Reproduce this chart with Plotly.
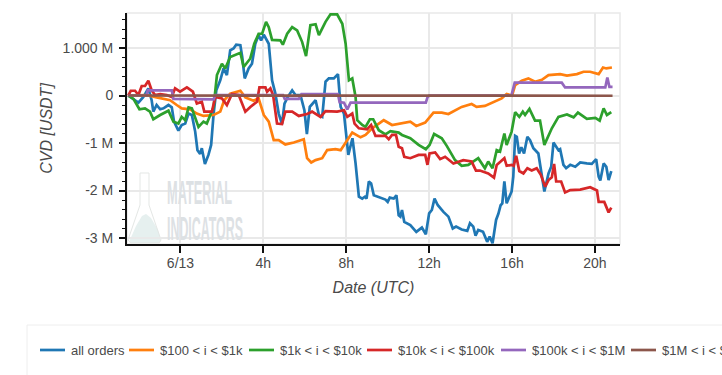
import plotly.graph_objects as go

W, H = 722, 375
L, R, T, B = 127, 620, 13, 244

series_names = ["all orders", "$100 < i < $1k", "$1k < i < $10k", "$10k < i < $100k", "$100k < i < $1M", "$1M < i < $10M"]
series_colors = ["#1f77b4", "#ff7f0e", "#2ca02c", "#d62728", "#9467bd", "#8c564b"]

# hours relative to 6/13 00:00 UTC, values in millions of USDT
blue_t = [-2.52,-2.27,-2.03,-1.79,-1.55,-1.39,-1.31,-1.15,-0.98,-0.82,-0.58,-0.42,-0.31,-0.10,0.06,0.23,0.39,0.55,0.71,0.82,0.95,1.03,1.18,1.35,1.48,1.60,1.73,1.92,2.08,2.24,2.40,2.56,2.69,2.89,2.98,3.10,3.29,3.45,3.61,3.77,3.89,4.02,4.15,4.26,4.42,4.58,4.74,4.90,5.02,5.18,5.39,5.55,5.79,5.98,6.10,6.24,6.52,6.68,6.84,7.0,7.16,7.40,7.60,7.73,7.89,8.10,8.30,8.45,8.61,8.77,8.9,8.98,9.09,9.2,9.33,9.65,9.89,10.0,10.1,10.29,10.42,10.53,10.61,10.69,10.8,11.09,11.38,11.65,11.84,12.0,12.13,12.26,12.42,12.69,12.93,13.14,13.3,13.57,13.84,13.97,14.13,14.24,14.37,14.6,14.8,14.92,15.06,15.23,15.34,15.45,15.53,15.63,15.74,15.98,16.06,16.15,16.23,16.34,16.45,16.58,16.74,16.87,17.03,17.27,17.4,17.56,17.76,17.89,18.0,18.11,18.24,18.32,18.48,18.61,18.81,19.05,19.29,19.61,19.85,20.06,20.18,20.26,20.42,20.55,20.66,20.79]
blue_v = [0,-0.08,-0.15,-0.03,0.15,-0.10,-0.34,-0.20,-0.29,-0.27,-0.20,-0.25,-0.55,-0.74,-0.62,-0.59,-0.38,-0.41,-0.76,-1.15,-1.23,-1.11,-1.44,-1.25,-1.04,-0.38,0.11,0.32,0.57,0.43,0.95,0.99,1.07,1.06,0.81,0.36,0.57,0.67,1.09,1.27,1.16,1.28,1.16,1.09,0.32,0.04,-0.38,-0.60,-0.17,-0.03,0.11,0.01,0.01,-0.31,-0.81,-0.24,-0.10,-0.41,-0.45,0.29,0.36,0.36,0.45,-0.24,-0.38,-1.25,-0.90,-1.43,-2.13,-2.17,-2.13,-2.17,-1.81,-1.85,-2.1,-2.15,-2.19,-2.24,-2.15,-2.17,-2.1,-2.52,-2.55,-2.41,-2.66,-2.73,-2.87,-2.78,-2.92,-2.48,-2.41,-2.17,-2.31,-2.45,-2.55,-2.8,-2.76,-2.82,-2.85,-2.69,-2.76,-2.95,-2.83,-2.87,-3.08,-2.97,-3.11,-2.62,-2.49,-2.31,-2.27,-1.81,-2.27,-2.02,-1.71,-0.85,-0.87,-1.22,-1.09,-1.22,-0.87,-0.94,-1.11,-1.22,-1.57,-2.02,-1.64,-1.5,-0.99,-1.06,-1.15,-1.13,-1.46,-1.53,-1.46,-1.5,-1.41,-1.43,-1.44,-1.34,-1.71,-1.79,-1.43,-1.5,-1.78,-1.59]

orange_t = [-2.52,-1.63,-1.15,-0.5,-0.18,0.06,0.47,0.79,1.11,1.6,1.92,2.11,2.4,2.89,3.13,3.53,3.77,4.02,4.26,4.5,4.74,5.06,5.47,5.95,6.11,6.31,6.52,6.84,7.08,7.48,7.73,8.0,8.29,8.69,8.93,9.25,9.81,10.21,10.69,11.09,11.38,11.81,12.21,12.61,12.93,13.57,14.05,14.29,14.69,15.1,15.5,15.74,16.0,16.15,16.47,16.79,17.11,17.44,17.76,18.32,18.65,19.13,19.45,19.77,20.18,20.39,20.55,20.82]
orange_v = [0,0.01,-0.04,-0.10,-0.2,-0.27,-0.29,-0.38,-0.43,-0.41,-0.34,-0.1,0.04,0.1,-0.04,-0.11,-0.06,-0.41,-0.55,-0.94,-0.94,-1.03,-0.99,-0.92,-1.32,-1.41,-1.36,-1.32,-1.15,-1.13,-1.15,-0.97,-0.78,-0.88,-0.83,-0.69,-0.52,-0.62,-0.59,-0.55,-0.64,-0.57,-0.36,-0.36,-0.39,-0.24,-0.18,-0.24,-0.22,-0.13,-0.06,0.03,0,0.22,0.31,0.36,0.29,0.33,0.43,0.45,0.42,0.45,0.5,0.5,0.45,0.59,0.57,0.59]

green_t = [-2.52,-2.27,-1.98,-1.71,-1.47,-1.31,-0.98,-0.58,-0.34,-0.1,0.06,0.23,0.39,0.55,0.87,1.11,1.27,1.6,1.76,2.0,2.16,2.4,2.89,3.05,3.37,3.56,3.77,3.94,4.13,4.26,4.42,4.82,4.94,5.15,5.39,5.63,5.87,6.06,6.27,6.52,6.68,7.0,7.24,7.56,7.81,7.97,8.13,8.29,8.45,8.53,8.77,8.93,9.14,9.3,9.57,9.89,10.13,10.37,10.53,10.69,11.09,11.49,11.84,12.02,12.24,12.61,12.85,13.25,13.57,13.89,14.13,14.37,14.69,14.85,15.06,15.26,15.42,15.63,15.74,15.98,16.15,16.35,16.52,16.63,16.84,17.11,17.35,17.56,17.92,18.24,18.65,18.97,19.18,19.61,20.02,20.23,20.42,20.58,20.79]
green_v = [0,-0.07,-0.29,-0.27,-0.34,-0.5,-0.41,-0.32,-0.55,-0.59,-0.45,-0.52,-0.25,-0.27,-0.66,-0.55,-0.59,-0.24,0.43,0.67,0.57,0.81,0.9,0.6,0.78,1.09,1.3,1.3,1.55,1.44,1.17,1.16,1.07,1.3,1.44,1.37,1.13,0.83,1.48,1.5,1.27,1.55,1.71,1.71,1.51,1.09,0.32,0.36,-0.03,-0.52,-0.62,-0.66,-0.5,-0.5,-0.73,-0.82,-0.75,-0.76,-0.78,-0.83,-0.9,-1.04,-1.13,-1.04,-0.81,-0.9,-1.06,-1.36,-1.48,-1.46,-1.39,-1.32,-1.53,-1.39,-1.53,-1.15,-1.18,-0.8,-1.04,-0.76,-0.35,-0.45,-0.34,-0.41,-0.28,-0.53,-0.53,-1.04,-0.69,-0.45,-0.4,-0.46,-0.36,-0.49,-0.47,-0.53,-0.27,-0.41,-0.35]

red_t = [-2.52,-2.4,-2.19,-2.03,-1.87,-1.71,-1.55,-1.39,-1.23,-0.98,-0.66,-0.42,-0.26,-0.02,0.31,0.6,0.79,1.03,1.15,1.52,1.68,2.0,2.24,2.48,2.81,3.13,3.37,3.69,3.81,4.1,4.18,4.34,4.47,4.66,4.9,5.06,5.39,5.71,6.11,6.35,6.76,7.0,7.56,7.89,8.05,8.29,8.4,8.61,9.01,9.2,9.41,9.89,10.05,10.21,10.4,10.53,10.69,10.8,11.09,11.49,11.81,11.92,12.02,12.29,12.53,12.77,13.17,13.65,14.05,14.26,14.45,14.85,15.13,15.26,15.45,15.63,15.74,15.98,16.08,16.2,16.35,16.55,16.74,16.95,17.19,17.39,17.6,17.76,17.92,18.03,18.13,18.37,18.56,18.81,19.29,19.77,20.1,20.18,20.45,20.66,20.79]
red_v = [0,0.1,0.1,0.01,0.2,0.2,0.31,0.11,0.01,0.03,0.01,-0.03,0.15,0.08,0.17,0.08,-0.17,-0.13,-0.34,-0.34,-0.03,-0.06,-0.2,0.03,0.01,-0.34,-0.24,-0.13,0.17,0.17,0.08,0.15,0.01,-0.59,-0.6,-0.34,-0.34,-0.43,-0.39,-0.34,-0.45,-0.33,-0.34,-0.31,-0.45,-0.38,-0.59,-0.69,-0.71,-0.62,-0.85,-0.85,-0.92,-0.83,-0.83,-1.08,-1.11,-1.29,-1.32,-1.25,-1.25,-1.46,-1.22,-1.2,-1.34,-1.29,-1.43,-1.36,-1.39,-1.58,-1.58,-1.64,-1.73,-1.46,-1.39,-1.32,-1.48,-1.46,-1.48,-1.27,-1.59,-1.64,-1.53,-1.58,-1.53,-1.67,-1.92,-1.78,-1.72,-1.44,-1.81,-1.81,-2.04,-1.99,-1.98,-1.93,-2.0,-2.24,-2.24,-2.46,-2.36]

purple_t = [-2.52,-1.63,-1.58,-0.42,-0.34,1.6,1.68,4.95,5.03,5.71,5.84,7.6,7.68,7.89,8.05,8.21,11.84,11.92,12.0,15.97,16.13,18.4,18.56,20.5,20.6,20.7,20.85]
purple_v = [0,0,0.11,0.11,-0.07,-0.08,0.01,0.01,-0.07,-0.07,0.03,0.03,-0.14,-0.15,-0.29,-0.15,-0.15,-0.04,0,0,0.27,0.27,0.17,0.17,0.38,0.18,0.18]

brown_t = [-2.52,4.0,12.0,20.85]
brown_v = [0,-0.005,-0.005,-0.005]

series_t = [blue_t, orange_t, green_t, red_t, purple_t, brown_t]
series_v = [blue_v, orange_v, green_v, red_v, purple_v, brown_v]

x_ticks = [0, 4, 8, 12, 16, 20]
x_labels = ["6/13", "4h", "8h", "12h", "16h", "20h"]
y_ticks = [-3, -2, -1, 0, 1]
y_labels = ["-3 M", "-2 M", "-1 M", "0", "1.000 M"]

X_RANGE = [-2.58, 21.21]
Y_RANGE = [-3.126, 1.737]

def px(x):
    return (x - L) / (R - L)

def py(y):
    return (B - y) / (B - T)

def path(points, close=True):
    s = "M" + " L".join(f"{px(a):.4f},{py(b):.4f}" for a, b in points)
    return s + (" Z" if close else "")

fig = go.Figure()
for name, color, t, v in zip(series_names, series_colors, series_t, series_v):
    fig.add_trace(go.Scatter(x=t, y=v, name=name, mode="lines", showlegend=False,
                             line=dict(color=color, width=2.7)))

FONT = "Liberation Sans, Arial, sans-serif"
GRID = "#e9e9e9"
TEXT = "#4a4a4a"
shapes = [
    dict(type="rect", xref="paper", yref="paper", x0=0, x1=1, y0=0, y1=1,
         line=dict(color=GRID, width=1.5), layer="below"),
    # watermark flask
    dict(type="path", xref="paper", yref="paper", layer="below",
         path=path([(129, 242), (136, 226), (142, 216), (146, 214), (151, 218), (158, 230), (161, 241), (158, 243), (131, 243)]),
         fillcolor="#e6f0ef", line=dict(width=0)),
    dict(type="path", xref="paper", yref="paper", layer="below",
         path=path([(140, 173), (149, 173), (149, 205), (161, 240), (159, 243), (131, 243), (128, 240), (140, 205)]),
         fillcolor="rgba(0,0,0,0)", line=dict(color="#e4e7e5", width=1)),
    # legend frame
    dict(type="rect", xref="paper", yref="paper", x0=px(27), x1=px(780), y0=py(325), y1=py(400),
         line=dict(color="#eeeeee", width=1), fillcolor="white"),
]
annotations = [
    dict(text="MATERIAL", x=px(165), y=py(191.5), xref="paper", yref="paper", xanchor="left", yanchor="middle",
         showarrow=False, font=dict(family="Liberation Sans Narrow, Liberation Sans", size=15, color="#dde1e4", weight="bold"),
         captureevents=False),
    dict(text="INDICATORS", x=px(165), y=py(227), xref="paper", yref="paper", xanchor="left", yanchor="middle",
         showarrow=False, font=dict(family="Liberation Sans Narrow, Liberation Sans", size=15, color="#dde1e4", weight="bold"),
         captureevents=False),
]

line_x = [40, 129, 249, 367, 501, 631]
for name, color, lx in zip(series_names, series_colors, line_x):
    shapes.append(dict(type="line", xref="paper", yref="paper", x0=px(lx), x1=px(lx + 25), y0=py(350), y1=py(350),
                       line=dict(color=color, width=2.7)))
    annotations.append(dict(text=name.replace("<", "&lt;"), x=px(lx + 29), y=py(350.2), xref="paper", yref="paper",
                            xanchor="left", yanchor="middle", showarrow=False,
                            font=dict(family=FONT, size=13, color=TEXT)))

fig.update_layout(
    width=W, height=H, autosize=False,
    margin=dict(l=L, r=W - R, t=T, b=H - B),
    paper_bgcolor="white", plot_bgcolor="white",
    font=dict(family=FONT, size=14, color=TEXT),
    shapes=shapes, annotations=annotations, showlegend=False,
)
fig.update_xaxes(
    range=X_RANGE, tickmode="array", tickvals=x_ticks, ticktext=x_labels,
    showgrid=True, gridcolor=GRID, gridwidth=1.5, zeroline=False,
    showline=True, linecolor="#111111", linewidth=2,
    ticks="outside", ticklen=7, tickwidth=1.5, tickcolor="#111111",
    tickfont=dict(size=14, color=TEXT), ticklabelstandoff=-2,
    title=dict(text="<i>Date (UTC)</i>", font=dict(size=16, color=TEXT), standoff=12),
)
fig.update_yaxes(
    range=Y_RANGE, tickmode="array", tickvals=y_ticks, ticktext=y_labels,
    showgrid=True, gridcolor=GRID, gridwidth=1.5, zeroline=False,
    showline=True, linecolor="#111111", linewidth=2,
    ticks="outside", ticklen=6, tickwidth=1.5, tickcolor="#111111",
    tickfont=dict(size=14, color=TEXT), ticklabelstandoff=3,
    minor=dict(ticks="outside", ticklen=3, tickwidth=1, tickcolor="#111111", dtick=0.2, tick0=0, showgrid=False),
    title=dict(text="<i>CVD [USDT]</i>", font=dict(size=16, color=TEXT), standoff=6),
)

post = """
document.documentElement.style.margin='0';
document.body.style.margin='0';
var boxes = {'MATERIAL':[167,178,65,27],'INDICATORS':[167,214,76,27]};
document.querySelectorAll('.annotation-text').forEach(function(t){
  var b = boxes[t.textContent];
  if(!b) return;
  var g = t.getBoundingClientRect();
  var sx = b[2]/g.width, sy = b[3]/(g.height*0.72);
  var bb = t.getBBox();
  var cx = bb.x, cy = bb.y+bb.height/2;
  t.setAttribute('transform','translate('+cx+','+cy+') scale('+sx+','+sy+') translate('+(-cx)+','+(-cy)+')');
});
"""
fig.write_html("out.html", post_script=post, config={"displayModeBar": False})
